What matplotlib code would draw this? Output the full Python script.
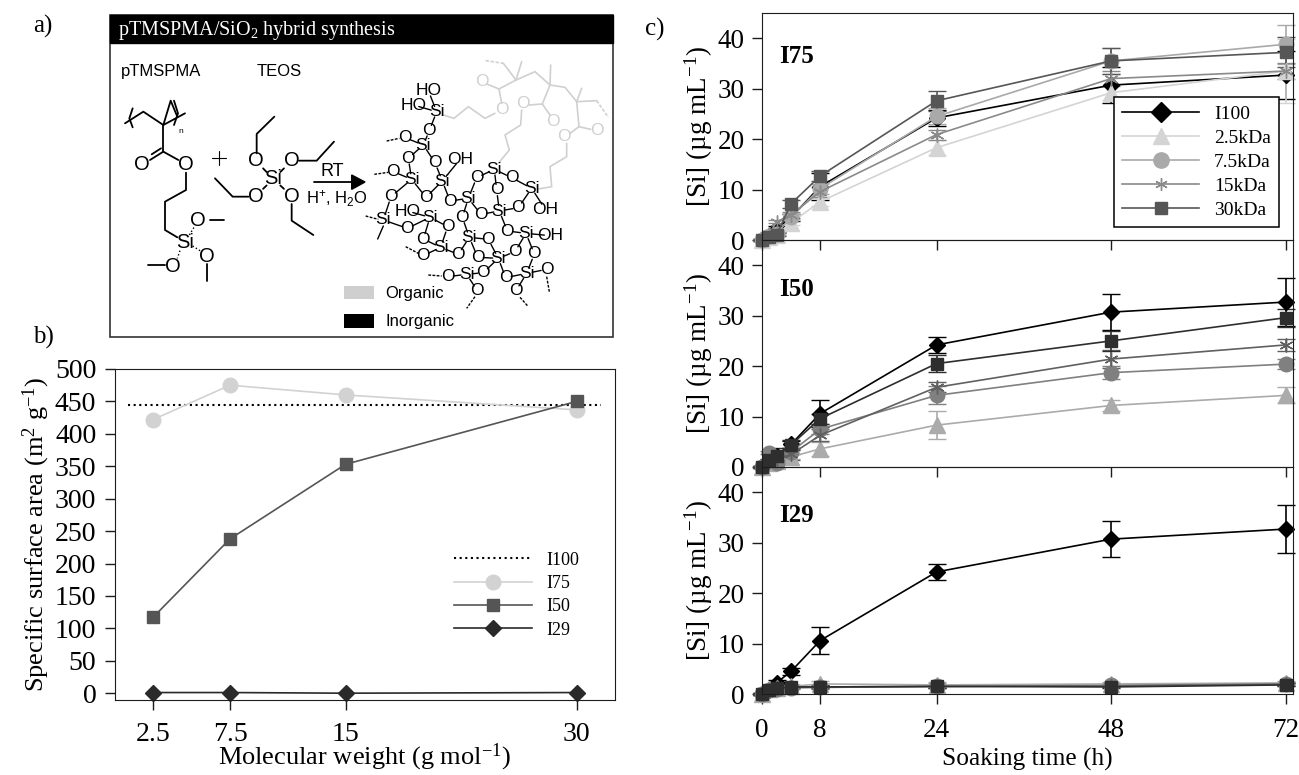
# -*- coding: utf-8 -*-
import numpy as np
import matplotlib; matplotlib.use("Agg")
import matplotlib.pyplot as plt
from matplotlib.lines import Line2D

plt.rcParams['font.family']=['Liberation Serif','DejaVu Serif']
plt.rcParams['mathtext.fontset']='custom'
plt.rcParams['mathtext.rm']='Liberation Serif'
plt.rcParams['mathtext.default']='regular'

W,H=1299,775
INK="#1c1c1c"

# ---- panel b data
mw=[2.5,7.5,15,30]
mw_labels=["2.5","7.5","15","30"]
sa_i100=[445,445]
sa_i100_x=[0.9,31.6]
sa_i75=[422,475,460,437]
sa_i50=[117,238,353,450]
sa_i29=[1,1,0,1]

# ---- panel c data
t=[0,1,2,4,8,24,48,72]
i100=[0,0.8,2.2,4.5,10.6,24.2,30.7,32.7]
i100_e=[0.2,0.4,0.6,0.7,2.6,1.6,3.6,4.8]

i75_25=[0,0.5,1.0,3.4,7.6,18.3,29.2,33.5]
i75_25e=[0.2,0.2,0.3,0.5,0.8,1.5,1.5,6.3]
i75_75=[0,0.8,1.2,4.6,10.2,24.5,35.5,38.8]
i75_75e=[0.2,0.3,0.3,0.5,1.0,1.6,2.5,3.9]
i75_15=[0,1.2,3.6,5.0,9.6,20.9,32.0,33.5]
i75_15e=[0.2,0.3,0.3,0.6,1.0,1.0,1.5,1.5]
i75_30=[0,0.5,1.0,7.2,12.7,27.6,35.5,37.2]
i75_30e=[0.2,0.2,0.3,0.8,1.0,2.0,2.6,3.0]

i50_25=[0,0.8,1.2,2.0,3.6,8.3,12.2,14.2]
i50_25e=[0.2,0.3,0.3,0.5,1.4,2.8,1.0,1.6]
i50_75=[0,2.8,0.8,3.0,7.5,14.2,18.7,20.4]
i50_75e=[0.2,0.3,0.3,0.5,1.0,1.8,1.3,1.0]
i50_15=[0,1.0,1.5,2.5,6.3,15.8,21.4,24.2]
i50_15e=[0.2,0.3,0.3,1.2,1.2,1.0,1.7,1.2]
i50_30=[0,1.3,2.2,4.4,9.6,20.5,25.0,29.6]
i50_30e=[0.2,0.3,1.5,1.0,1.0,1.7,2.0,1.8]

i29_25=[0,1.0,1.2,1.5,2.0,1.8,2.0,2.2]
i29_25e=[0.1,0.2,0.2,0.3,0.5,0.5,0.3,0.3]
i29_75=[0,0.8,1.0,1.2,1.3,1.5,1.7,2.0]
i29_75e=[0.1,0.2,0.2,0.3,0.3,0.4,0.3,0.3]
i29_15=[0,0.7,1.1,1.4,1.4,1.5,1.6,1.9]
i29_15e=[0.1,0.2,0.2,0.3,0.3,0.4,0.3,0.3]
i29_30=[0,0.7,1.1,1.4,1.4,1.5,1.4,1.8]
i29_30e=[0.1,0.2,0.2,0.3,0.3,0.4,0.3,0.3]

legend_names=["I100","2.5kDa","7.5kDa","15kDa","30kDa"]
greys_top=["#d4d4d4","#a9a9a9","#8a8a8a","#565656"]
greys_low=["#ababab","#808080","#606060","#2e2e2e"]

fig=plt.figure(figsize=(W/100,H/100),dpi=100)
def px_ax(l,t_,r,b):
    return fig.add_axes([l/W,1-b/H,(r-l)/W,(b-t_)/H])

# ---- panel a: scheme, drawn in crop coordinates
sc=px_ax(100,10,620,350); sc.set_xlim(0,1560); sc.set_ylim(1020,0); sc.axis("off")
SANS=['Liberation Sans','DejaVu Sans']
sc.add_patch(plt.Rectangle((30,15),1510,965,fc="white",ec="#333333",lw=1.2))
sc.add_patch(plt.Rectangle((30,15),1510,83,fc="black",ec="black",lw=1))
sc.text(55,60,"pTMSPMA/SiO$_{2}$ hybrid synthesis",color="white",fontsize=14.5,va="center",ha="left")
def atom(s,x,y,c="black",fs=14.5):
    sc.text(x,y,s,color=c,fontsize=fs,ha="center",va="center",family=SANS,math_fontfamily="dejavusans")
def chain(pts,c="black",lw=1.3,ls="-"):
    p=np.array(pts); sc.plot(p[:,0],p[:,1],color=c,lw=lw,ls=ls,solid_capstyle="round")
atom("pTMSPMA",182,185,fs=12); atom("TEOS",537,185,fs=12)
chain([(75,340),(130,305),(190,345),(255,310)]); chain([(190,345),(212,272),(232,320)])
chain([(98,295),(88,325),(98,352)]); chain([(222,272),(234,310),(222,345)])
atom("n",241,365,fs=6)
chain([(190,345),(190,425)]); chain([(190,425),(150,450)]); chain([(183,415),(155,433)]); atom("O",127,463)
chain([(190,425),(235,450)]); atom("O",258,462)
chain([(258,488),(258,540),(195,575),(195,660),(232,682)])
atom("Si",255,697); atom("O",295,632); chain([(330,630),(372,630)])
atom("O",322,738); chain([(322,762),(322,812)]); atom("O",220,768); chain([(145,765),(195,765)])
chain([(268,675),(282,652)],lw=1,ls=":"); chain([(278,708),(300,722)],lw=1,ls=":"); chain([(240,722),(232,745)],lw=1,ls=":")
chain([(335,443),(377,443)],lw=0.8); chain([(356,422),(356,464)],lw=0.8)
atom("Si",520,507)
for s,x,y in [("O",467,452),("O",575,452),("O",467,558),("O",575,558)]:
    atom(s,x,y); chain([(x+(520-x)*0.42,y+(507-y)*0.42),(x+(520-x)*0.62,y+(507-y)*0.62)])
chain([(470,430),(470,372),(523,320)]); chain([(597,452),(650,452),(702,395)])
chain([(445,560),(398,560),(345,505)]); chain([(575,582),(575,632),(640,675)])
chain([(642,516),(760,516)])
sc.fill([755,755,795],[495,538,516],color="black")
atom("RT",697,485,fs=13); atom("H$^{+}$, H$_{2}$O",710,565,fs=12)

net=[("HO",985,242),("HO",940,285),("Si",1010,305),("O",988,362),("O",915,383),("Si",970,405),
("O",925,445),("O",1005,458),("OH",1080,448),("O",880,485),("Si",935,508),("Si",1027,513),
("O",873,560),("O",978,562),("O",1050,573),("Si",1105,565),("O",1130,503),("Si",1183,478),
("O",1235,503),("O",1190,540),("Si",1295,535),("OH",1335,597),("O",1255,593),("Si",1198,603),
("O",1143,613),("O",1087,622),("Si",850,630),("O",922,655),("HO",922,603),("Si",990,622),
("O",1043,650),("O",970,687),("Si",1022,712),("O",970,737),("O",1075,733),("Si",1108,682),
("O",1165,688),("O",1222,663),("Si",1278,670),("OH",1350,677),("O",1245,725),("O",1303,732),
("Si",1195,745),("O",1133,742),("O",1150,788),("Si",1100,793),("O",1043,800),("O",1132,842),
("O",1217,803),("Si",1280,790),("O",1340,778),("O",1248,842)]
links=[(0,2),(1,2),(2,3),(3,5),(4,5),(5,6),(5,7),(6,10),(7,11),(8,11),(9,10),(10,13),(13,11),(10,12),
(12,26),(11,14),(14,15),(15,16),(16,17),(17,18),(17,19),(18,20),(20,22),(20,21),(22,23),(19,23),(15,24),
(24,23),(15,25),(25,35),(26,27),(27,29),(28,29),(29,30),(29,31),(31,32),(30,32),(32,33),(32,34),(34,35),
(35,36),(36,42),(35,43),(23,37),(37,38),(38,39),(38,40),(40,42),(38,41),(41,49),(42,48),(48,49),(49,50),
(49,51),(42,44),(44,45),(43,42),(45,46),(45,47)]
for a,b in links:
    p=np.array(net[a][1:],float); q=np.array(net[b][1:],float); d=np.hypot(*(q-p)); u=(q-p)/d
    chain([p+u*17,q-u*17],lw=1)
for s,x,y in net:
    atom(s,x,y,fs=12.5)
for p,q in [((860,393),(898,385)),((823,493),(865,487)),((797,618),(835,628)),((917,710),(955,730)),
            ((985,795),(1025,798)),((1125,860),(1100,895)),((1260,862),(1285,890)),((1340,800),(1348,845))]:
    chain([p,q],lw=1,ls=(0,(2,1)))
chain([(850,648),(833,687)],lw=1)

ORG="#d0d0d0"
for pts in [[(1210,160),(1248,210),(1305,185),(1350,225),(1395,232),(1430,275),(1490,272)],
            [(1248,210),(1265,155)],[(1350,225),(1352,165)],[(1430,275),(1445,235)],
            [(1248,210),(1197,237),(1205,280)],[(1197,237),(1160,222)],
            [(1185,310),(1155,325),(1105,290),(1062,325),(1030,315)],
            [(1350,225),(1327,282),(1288,285)],[(1327,282),(1350,315)],
            [(1265,300),(1262,345),(1215,375),(1228,420),(1195,460)],
            [(1430,275),(1437,350),(1410,370)],[(1437,350),(1472,358)],
            [(1400,400),(1400,440),(1350,470),(1355,530),(1315,537)]]:
    chain(pts,c=ORG,lw=1.2)
chain([(1157,152),(1210,160)],c=ORG,lw=1.2,ls=(0,(2,1))); chain([(1490,272),(1525,322)],c=ORG,lw=1.2,ls=(0,(2,1)))
for x,y in [(1145,213),(1205,300),(1358,333),(1268,280),(1490,362),(1393,380)]:
    atom("O",x,y,c=ORG,fs=12.5)
sc.add_patch(plt.Rectangle((733,828),89,40,fc="#cfcfcf",ec="none"))
sc.add_patch(plt.Rectangle((733,913),89,42,fc="black",ec="none"))
atom("Organic",945,850,fs=12); atom("Inorganic",960,935,fs=12)

fig.text(33/W,1-26/H,"a)",fontsize=18,va="center")
fig.text(33/W,1-337/H,"b)",fontsize=18,va="center")
fig.text(645/W,1-29/H,"c)",fontsize=18,va="center")

# ---- panel b
ab=px_ax(115,369,615,700)
ab.plot(sa_i100_x,sa_i100,color="black",lw=1.5,ls=(0,(1.0,1.7)),label="I100")
ab.plot(mw,sa_i75,color="#d2d2d2",lw=1.2,marker="o",ms=10.5,label="I75")
ab.plot(mw,sa_i50,color="#555555",lw=1.2,marker="s",ms=8.5,label="I50")
ab.plot(mw,sa_i29,color="#2a2a2a",lw=1.2,marker="D",ms=8,label="I29",clip_on=False)
ab.set_xlim(0.03,32.5); ab.set_ylim(-10.5,500)
ab.set_xticks(mw); ab.set_xticklabels(mw_labels)
ab.set_yticks(np.arange(0,501,50))
ab.tick_params(length=7.5,width=1,color=INK,labelsize=20,pad=6)
ab.tick_params(axis="x",pad=8)
for s in ab.spines.values(): s.set_color(INK)
ab.set_xlabel("Molecular weight (g mol$^{-1}$)",fontsize=19,labelpad=-3.5)
ab.set_ylabel("Specific surface area (m$^{2}$ g$^{-1}$)",fontsize=19,labelpad=2)
ab.legend(loc="lower left",bbox_to_anchor=(0.66,0.158),frameon=False,fontsize=13,labelspacing=0.35,
          handlelength=4.3,handletextpad=0.8,borderpad=0)

# ---- panel c
panels=[("I75",13,240,0.81,[i75_25,i75_75,i75_15,i75_30],[i75_25e,i75_75e,i75_15e,i75_30e],greys_top),
        ("I50",240,467,0.78,[i50_25,i50_75,i50_15,i50_30],[i50_25e,i50_75e,i50_15e,i50_30e],greys_low),
        ("I29",467,694,0.787,[i29_25,i29_75,i29_15,i29_30],[i29_25e,i29_75e,i29_15e,i29_30e],greys_low)]
marks=[("^",11.5),("o",10.5),((6,2,0),10),("s",8.5)]
def series(ax,y,e,c,m,ms):
    cont=ax.errorbar(t,y,yerr=e,color=c,ecolor=c,lw=1.2,elinewidth=1.2,capsize=6.5,capthick=1.2,
                     marker=m,ms=ms,mew=1.0,mec=c,mfc=c)
    for art in [cont[0]]+list(cont[1])+list(cont[2]): art.set_clip_on(False)
for name,top,bot,ty,ys,es,cols in panels:
    ax=px_ax(762,top,1293,bot)
    ax.patch.set_visible(False)
    series(ax,i100,i100_e,"black","D",8)
    for y,e,c,(m,ms) in zip(ys,es,cols,marks):
        series(ax,y,e,c,m,ms)
    ax.set_xlim(0,73); ax.set_ylim(0,45)
    ax.set_xticks([0,8,24,48,72]); ax.set_yticks([0,10,20,30,40])
    ax.tick_params(length=7.5,width=1,color=INK,labelsize=19.5,pad=5)
    ax.tick_params(axis="x",pad=10)
    for s in ax.spines.values(): s.set_color(INK)
    ax.set_ylabel("[Si] (µg mL$^{-1}$)",fontsize=19.5,labelpad=2)
    ax.text(0.032,ty,name,transform=ax.transAxes,fontsize=18,fontweight="bold",va="center")
    if name!="I29":
        ax.tick_params(axis="x",labelbottom=False)
    else:
        ax.set_xlabel("Soaking time (h)",fontsize=18.3,labelpad=3)
    if name=="I75":
        hs=[Line2D([],[],color="black",lw=1.2,marker="D",ms=10)]
        for c,(m,ms) in zip(cols,marks):
            hs.append(Line2D([],[],color=c,lw=1.2,marker=m,ms=ms*1.05 if m!=(6,2,0) else 9,mew=1))
        leg=ax.legend(hs,legend_names,loc="lower left",bbox_to_anchor=(0.662,0.058),fontsize=14,fancybox=False,framealpha=1,
                      edgecolor="black",labelspacing=0.33,handlelength=4.0,handletextpad=0.75,borderpad=0.42,borderaxespad=0)
        leg.get_frame().set_linewidth(1.1)
        leg.set_zorder(10)

plt.savefig("out.png",dpi=100)
